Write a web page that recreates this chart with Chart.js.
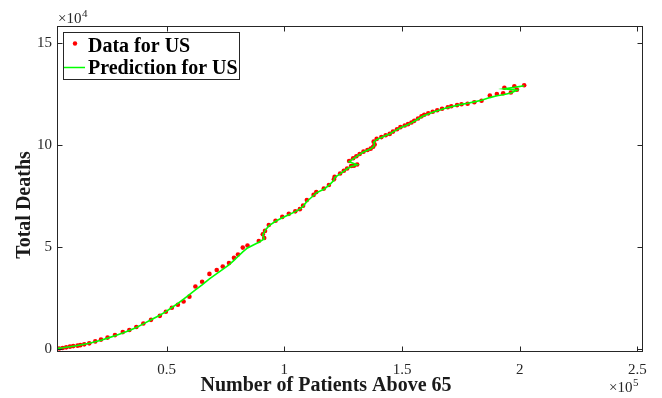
<!DOCTYPE html>
<html><head><meta charset="utf-8">
<script src="https://cdn.jsdelivr.net/npm/chart.js@4"></script>
<style>html,body{margin:0;padding:0;background:#fff}</style>
</head><body>
<canvas id="c" width="662" height="398"></canvas>
<script>
const patientsAbove65 = [2940,4340,5830,7320,8890,10300,12130,13280,14980,17110,19660,22090,24890,28040,31360,34130,37110,40090,43360,47110,49660,52210,54770,57190,59660,62210,65060,68170,71280,73830,76470,78600,80300,82340,84340,89150,91450,90850,91790,93400,96260,99110,101910,104640,106600,107960,109570,112430,113570,116770,118940,121060,121360,123700,125280,126680,128380,129570,130940,127530,129230,130600,132000,133620,135320,136680,137740,138380,137960,139230,141230,143060,144770,146170,147870,149320,151150,152550,154000,155190,156810,158260,159450,161150,163060,164980,167020,169450,170940,173400,175280,177870,180720,183790,187320,190300,192980,196260,198810,193490,197740,201910];
const totalDeaths = [30,250,490,790,1130,1380,1620,1870,2260,2750,3690,4570,5560,6790,8260,9250,10720,12440,14260,16230,18250,20220,21690,23270,25630,30640,32960,36790,38660,40380,42110,44660,46290,49680,50710,52930,54400,56220,57850,60750,62860,64730,66210,67440,68520,70240,72950,75500,76880,78600,80330,83130,84410,85980,87310,88440,89670,89820,90410,92130,93460,94490,95570,96700,97540,98180,99110,100200,101620,102950,103840,104770,105410,106540,107720,108710,109490,110180,110970,111800,112940,114020,114760,115490,116230,116970,117710,118450,118940,119530,119920,120170,120900,121640,124250,124940,125330,125680,127050,128040,128780,129270];
const predictedDeaths = [200,400,600,850,1100,1350,1650,1900,2300,2800,3500,4300,5300,6500,7800,9000,10500,12300,14300,16500,18300,20300,22300,24400,26600,28900,31400,34300,36900,39000,41200,43400,45300,47600,49500,52300,53900,55800,58000,60300,62600,64300,65800,67300,68500,69900,72300,75200,76500,78300,80200,82600,84000,85800,87200,88300,89400,89800,90300,91800,93200,94300,95400,96500,97400,98100,99000,100000,101300,102600,103600,104600,105400,106400,107500,108400,109300,110000,110800,111600,112700,113700,114400,115200,116000,116800,117500,118300,118700,119400,119900,120400,121100,121900,123200,124100,124600,125500,126800,127500,128200,129000];
const seriesLabels = ['Data for US','Prediction for US'];
const xTickValues = [50000,100000,150000,200000,250000];
const xTickLabels = ['0.5','1','1.5','2','2.5'];
const yTickValues = [0,50000,100000,150000];
const yTickLabels = ['0','5','10','15'];
const xTitle = 'Number of Patients Above 65';
const yTitle = 'Total Deaths';

const dataPts = patientsAbove65.map((x,i)=>({x:x,y:totalDeaths[i]}));
const predPts = patientsAbove65.map((x,i)=>({x:x,y:predictedDeaths[i]}));
const AX = '#262626';
const SERIF = '"Liberation Serif", "Times New Roman", serif';

const decor = {
  id:'decor',
  afterDraw(chart){
    const ctx = chart.ctx, a = chart.chartArea, xs = chart.scales.x, ys = chart.scales.y;
    ctx.save();
    ctx.strokeStyle = AX; ctx.lineWidth = 1;
    const L = Math.round(a.left)+0.5, R = Math.round(a.right)-0.5, T = Math.round(a.top)+0.5, B = Math.round(a.bottom)-0.5;
    ctx.strokeRect(L, T, R-L, B-T);
    ctx.beginPath();
    xTickValues.forEach(v=>{
      const p = Math.round(xs.getPixelForValue(v))+0.5;
      ctx.moveTo(p,B); ctx.lineTo(p,B-5);
      ctx.moveTo(p,T); ctx.lineTo(p,T+5);
    });
    yTickValues.forEach(v=>{
      const p = Math.round(ys.getPixelForValue(v))+0.5;
      ctx.moveTo(L,p); ctx.lineTo(L+5,p);
      ctx.moveTo(R,p); ctx.lineTo(R-5,p);
    });
    ctx.stroke();
    // exponents
    ctx.fillStyle = AX; ctx.textBaseline = 'alphabetic'; ctx.textAlign = 'left';
    ctx.font = '15px '+SERIF;
    const w = ctx.measureText('\u00d710').width;
    ctx.fillText('\u00d710', 58, 23);
    ctx.fillText('\u00d710', 609, 392);
    ctx.font = '11px '+SERIF;
    ctx.fillText('4', 58 + w + 0.5, 16.5);
    ctx.fillText('5', 609 + w + 0.5, 385.5);
    // titles
    ctx.fillStyle = '#1a1a1a';
    ctx.font = 'bold 20px '+SERIF;
    ctx.textAlign = 'center';
    ctx.fillText(xTitle, 326, 391);
    ctx.save();
    ctx.translate(30, 205); ctx.rotate(-Math.PI/2);
    ctx.fillText(yTitle, 0, 0);
    ctx.restore();
    // legend
    ctx.fillStyle = '#fff';
    ctx.fillRect(63.5,32.5,176,47);
    ctx.strokeStyle = AX; ctx.lineWidth = 1;
    ctx.strokeRect(63.5,32.5,176,47);
    ctx.fillStyle = '#ff0000';
    ctx.beginPath(); ctx.arc(75,43.5,2.2,0,Math.PI*2); ctx.fill();
    ctx.strokeStyle = '#00ff00'; ctx.lineWidth = 1.5;
    ctx.beginPath(); ctx.moveTo(64,67.5); ctx.lineTo(85,67.5); ctx.stroke();
    ctx.fillStyle = '#000';
    ctx.font = 'bold 20px '+SERIF; ctx.textAlign = 'left';
    ctx.fillText(seriesLabels[0], 88, 51.5);
    ctx.fillText(seriesLabels[1], 88, 74);
    ctx.restore();
  }
};

new Chart(document.getElementById('c'), {
  type:'scatter',
  data:{datasets:[
    {label:seriesLabels[0], data:dataPts, showLine:false, pointRadius:2.3, pointHoverRadius:2.3,
     backgroundColor:'#ff0000', borderWidth:0, pointBorderWidth:0, order:2},
    {label:seriesLabels[1], data:predPts, showLine:true, pointRadius:0, borderColor:'#00ff00',
     borderWidth:1.6, backgroundColor:'#00ff00', fill:false, tension:0, order:1}
  ]},
  options:{
    responsive:false, animation:false, devicePixelRatio:1,
    layout:{padding:{top:26,right:19,left:0,bottom:0}},
    plugins:{legend:{display:false}, tooltip:{enabled:false}},
    scales:{
      x:{type:'linear', min:3400, max:252400,
        afterBuildTicks(s){ s.ticks = xTickValues.map(v=>({value:v})); },
        afterFit(s){ s.height = 46; },
        grid:{display:false, drawTicks:false, tickLength:0}, border:{display:false},
        ticks:{padding:9, color:AX, font:{family:SERIF, size:15}, maxRotation:0,
          callback:(v)=>{const i=xTickValues.indexOf(v); return i>=0?xTickLabels[i]:'';}}},
      y:{type:'linear', min:-1500, max:158300,
        afterBuildTicks(s){ s.ticks = yTickValues.map(v=>({value:v})); },
        afterFit(s){ s.width = 57; },
        grid:{display:false, drawTicks:false, tickLength:0}, border:{display:false},
        ticks:{padding:5, color:AX, font:{family:SERIF, size:15},
          callback:(v)=>{const i=yTickValues.indexOf(v); return i>=0?yTickLabels[i]:'';}}}
    }
  },
  plugins:[decor]
});
</script>
</body></html>
